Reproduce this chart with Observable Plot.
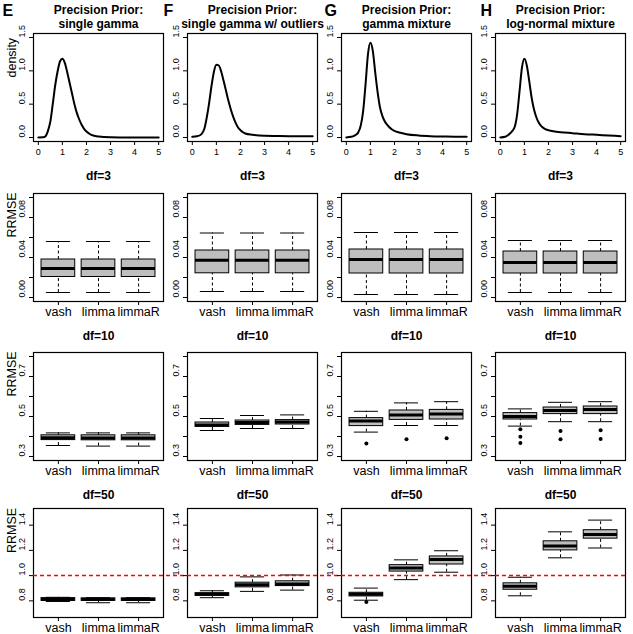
<!DOCTYPE html>
<html><head><meta charset="utf-8">
<script src="https://cdn.jsdelivr.net/npm/d3@7"></script>
<script src="https://cdn.jsdelivr.net/npm/@observablehq/plot@0.6"></script>
<style>
html,body{margin:0;padding:0;background:#fff;}
#root{position:relative;width:633px;height:634px;overflow:hidden;background:#fff;}
#root svg{position:absolute;}
</style></head><body><div id="root"></div>
<script>
// ---------- data ----------
const panelLetters = ["E", "F", "G", "H"];
const priorTitles = ["single gamma", "single gamma w/ outliers", "gamma mixture", "log-normal mixture"];
const methods = ["vash", "limma", "limmaR"];
const dfLabels = ["df=3", "df=10", "df=50"];

// density curves (precision prior)
const densityX = [0, 0.2, 0.3, 0.4, 0.5, 0.6, 0.7, 0.8, 0.9, 1.0, 1.1, 1.2, 1.3, 1.4, 1.5, 1.6, 1.7, 1.8, 1.9, 2.0, 2.2, 2.5, 3, 3.5, 4, 4.5, 5];
const densitySingleGamma = [0, 0.003, 0.02, 0.1, 0.24, 0.5, 0.78, 0.99, 1.14, 1.18, 1.12, 0.98, 0.82, 0.66, 0.5, 0.37, 0.27, 0.19, 0.13, 0.09, 0.04, 0.015, 0.003, 0.001, 0, 0, 0];
const densityGammaOutliers = [0.01, 0.02, 0.03, 0.06, 0.13, 0.3, 0.52, 0.78, 0.99, 1.09, 1.08, 0.99, 0.85, 0.7, 0.55, 0.42, 0.31, 0.22, 0.15, 0.11, 0.06, 0.04, 0.025, 0.022, 0.02, 0.02, 0.02];
const densityGammaMixture = [0, 0.01, 0.02, 0.04, 0.08, 0.18, 0.4, 0.8, 1.25, 1.42, 1.3, 0.98, 0.68, 0.45, 0.32, 0.24, 0.19, 0.15, 0.12, 0.1, 0.075, 0.05, 0.03, 0.02, 0.015, 0.012, 0.01];
const densityLogNormalMixture = [0, 0.01, 0.03, 0.06, 0.1, 0.16, 0.35, 0.7, 1.05, 1.18, 1.08, 0.85, 0.6, 0.42, 0.3, 0.22, 0.17, 0.14, 0.12, 0.11, 0.095, 0.08, 0.065, 0.05, 0.04, 0.03, 0.02];
const densities = [densitySingleGamma, densityGammaOutliers, densityGammaMixture, densityLogNormalMixture];

// RRMSE boxplot stats per prior, per method: [lower whisker, Q1, median, Q3, upper whisker]
const df3Stats = [
  [[0.005, 0.0205, 0.029, 0.038, 0.056], [0.005, 0.0205, 0.029, 0.038, 0.056], [0.005, 0.0205, 0.029, 0.038, 0.056]],
  [[0.006, 0.0242, 0.0372, 0.047, 0.0645], [0.006, 0.0242, 0.0372, 0.047, 0.0645], [0.006, 0.0242, 0.0372, 0.047, 0.0645]],
  [[0.003, 0.024, 0.038, 0.048, 0.065], [0.003, 0.024, 0.038, 0.048, 0.065], [0.003, 0.024, 0.038, 0.048, 0.065]],
  [[0.005, 0.024, 0.035, 0.046, 0.057], [0.005, 0.024, 0.035, 0.046, 0.057], [0.005, 0.024, 0.035, 0.046, 0.057]]
];
const df10Stats = [
  [[0.355, 0.382, 0.394, 0.406, 0.418], [0.352, 0.381, 0.393, 0.406, 0.418], [0.352, 0.381, 0.393, 0.406, 0.418]],
  [[0.43, 0.448, 0.458, 0.47, 0.49], [0.44, 0.458, 0.47, 0.48, 0.505], [0.44, 0.46, 0.472, 0.482, 0.508]],
  [[0.422, 0.452, 0.477, 0.492, 0.526], [0.455, 0.483, 0.508, 0.53, 0.568], [0.455, 0.485, 0.513, 0.533, 0.574]],
  [[0.452, 0.485, 0.5, 0.517, 0.538], [0.474, 0.512, 0.53, 0.545, 0.571], [0.474, 0.512, 0.535, 0.55, 0.574]]
];
const df50Stats = [
  [[0.795, 0.8, 0.81, 0.822, 0.828], [0.785, 0.8, 0.81, 0.82, 0.826], [0.785, 0.8, 0.81, 0.82, 0.826]],
  [[0.825, 0.84, 0.853, 0.861, 0.88], [0.875, 0.907, 0.928, 0.944, 0.99], [0.885, 0.917, 0.933, 0.955, 1.005]],
  [[0.805, 0.835, 0.853, 0.864, 0.901], [0.968, 1.032, 1.061, 1.083, 1.125], [1.027, 1.088, 1.128, 1.152, 1.197]],
  [[0.84, 0.888, 0.915, 0.939, 0.987], [1.141, 1.2, 1.235, 1.272, 1.347], [1.219, 1.293, 1.325, 1.36, 1.44]]
];
const df3Outliers = [[[], [], []], [[], [], []], [[], [], []], [[], [], []]];
const df10Outliers = [[[], [], []], [[], [], []], [[0.365], [0.386], [0.391]], [[0.436, 0.399, 0.368], [0.427, 0.386], [0.431, 0.388]]];
const df50Outliers = [[[], [], []], [[], [], []], [[0.79], [], []], [[], [], []]];

// axis ticks
const densityXTicks = [0, 1, 2, 3, 4, 5];
const densityYTicks = [0, 0.5, 1.0, 1.5];
const densityYLabels = ["0.0", "0.5", "1.0", "1.5"];
const df3YTicks = [0, 0.02, 0.04, 0.06, 0.08, 0.1];
const df3YLabelTicks = [0, 0.04, 0.08];
const df3YLabels = ["0.00", "0.04", "0.08"];
const df10YTicks = [0.3, 0.4, 0.5, 0.6, 0.7, 0.8];
const df10YLabelTicks = [0.3, 0.5, 0.7];
const df10YLabels = ["0.3", "0.5", "0.7"];
const df50YTicks = [0.8, 1.0, 1.2, 1.4];
const df50YLabelTicks = [0.8, 1.0, 1.2, 1.4];
const df50YLabels = ["0.8", "1.0", "1.2", "1.4"];
const referenceLine = [1.0];

// ---------- layout ----------
const FONT = "'Liberation Sans', Arial, Helvetica, sans-serif";
const colLeft = [33, 187, 341, 495];
const rowTop = [33, 193, 352, 508];
const rowH = [108, 108, 108, 109];
const rowMT = [33, 30, 30, 30];
const titleGap = [6, 14, 13, 10];
const letterDx = [-31, -24, -17, -15];
const W = 130, ML = 33, MR = 8, MB = 26;
const boxHalf = 0.42, capHalf = 0.3;
const boxXDomain = [0.38, 3.62];

const root = document.getElementById("root");

function place(svg, c, r) {
  svg.style.left = (colLeft[c] - ML) + "px";
  svg.style.top = (rowTop[r] - rowMT[r]) + "px";
  root.appendChild(svg);
}

function yAxisMarks(ticks, labelTicks, labels, title) {
  const lab = labelTicks.map((v, i) => ({v, t: labels[i]}));
  const m = [
    Plot.axisY({ticks, tickSize: 4, tickFormat: () => "", label: null, stroke: "black"}),
    Plot.text(lab, {y: "v", text: "t", frameAnchor: "left", dx: -11, rotate: -90, fontSize: 9, fill: "black"})
  ];
  if (title) m.push(Plot.text([title], {frameAnchor: "left", dx: -22, dy: -10, rotate: -90, fontSize: 12.5, fill: "black"}));
  return m;
}

// Row 1: densities
for (let c = 0; c < 4; c++) {
  const rows = densityX.map((x, i) => ({x, y: densities[c][i]}));
  const svg = Plot.plot({
    width: ML + W + MR, height: rowMT[0] + rowH[0] + MB,
    marginLeft: ML, marginRight: MR, marginTop: rowMT[0], marginBottom: MB,
    x: {domain: [-0.2, 5.2], axis: null},
    y: {domain: [-0.06, 1.56], axis: null},
    style: {background: "transparent", overflow: "visible", fontFamily: FONT},
    marks: [
      Plot.frame({stroke: "black", strokeWidth: 1.2}),
      Plot.line(rows, {x: "x", y: "y", stroke: "black", strokeWidth: 2, curve: "monotone-x"}),
      Plot.axisX({ticks: densityXTicks, tickSize: 4, tickPadding: 3, fontSize: 9, label: null, tickFormat: d => String(d)}),
      ...yAxisMarks(densityYTicks, densityYTicks, densityYLabels, c === 0 ? "density" : null),
      Plot.text(["Precision Prior:\n" + priorTitles[c]], {frameAnchor: "top", lineAnchor: "bottom", dy: -titleGap[0], fontSize: 12, fontWeight: "bold", lineHeight: 1.1, fill: "black"}),
      Plot.text([panelLetters[c]], {frameAnchor: "top-left", textAnchor: "start", lineAnchor: "bottom", dx: letterDx[c], dy: -18, fontSize: 16, fontWeight: "bold", fill: "black"})
    ]
  });
  place(svg, c, 0);
}

// Rows 2-4: RRMSE boxplots
const rowStats = [df3Stats, df10Stats, df50Stats];
const rowOutliers = [df3Outliers, df10Outliers, df50Outliers];
const rowYDomain = [[-0.004, 0.104], [0.28, 0.82], [0.668, 1.532]];
const rowYTicks = [df3YTicks, df10YTicks, df50YTicks];
const rowYLabelTicks = [df3YLabelTicks, df10YLabelTicks, df50YLabelTicks];
const rowYLabels = [df3YLabels, df10YLabels, df50YLabels];

for (let k = 0; k < 3; k++) {
  const r = k + 1;
  for (let c = 0; c < 4; c++) {
    const rows = rowStats[k][c].map((s, i) => ({pos: i + 1, lw: s[0], q1: s[1], med: s[2], q3: s[3], uw: s[4]}));
    const outs = rowOutliers[k][c].flatMap((vals, i) => vals.map(v => ({pos: i + 1, v})));
    const marks = [
      Plot.ruleX(rows, {x: "pos", y1: "q3", y2: "uw", stroke: "black", strokeDasharray: "3,2.5"}),
      Plot.ruleX(rows, {x: "pos", y1: "lw", y2: "q1", stroke: "black", strokeDasharray: "3,2.5"}),
      Plot.ruleY(rows, {y: "uw", x1: d => d.pos - capHalf, x2: d => d.pos + capHalf, stroke: "black"}),
      Plot.ruleY(rows, {y: "lw", x1: d => d.pos - capHalf, x2: d => d.pos + capHalf, stroke: "black"}),
      Plot.rect(rows, {x1: d => d.pos - boxHalf, x2: d => d.pos + boxHalf, y1: "q1", y2: "q3", fill: "#bebebe", stroke: "black", strokeWidth: 1}),
      Plot.ruleY(rows, {y: "med", x1: d => d.pos - boxHalf, x2: d => d.pos + boxHalf, stroke: "black", strokeWidth: 3}),
      Plot.dot(outs, {x: "pos", y: "v", r: 2, fill: "black"}),
      Plot.frame({stroke: "black", strokeWidth: 1.2}),
      Plot.axisX({ticks: [1, 2, 3], tickSize: 4, tickPadding: 2, fontSize: 12.5, label: null, tickFormat: i => methods[i - 1]}),
      ...yAxisMarks(rowYTicks[k], rowYLabelTicks[k], rowYLabels[k], c === 0 ? "RRMSE" : null),
      Plot.text([dfLabels[k]], {frameAnchor: "top", lineAnchor: "bottom", dy: -titleGap[r], fontSize: 12, fontWeight: "bold", fill: "black"})
    ];
    if (k === 2) {
      const x2 = c < 3 ? boxXDomain[1] + 24 * (boxXDomain[1] - boxXDomain[0]) / W : boxXDomain[1];
      marks.push(Plot.ruleY(referenceLine, {y: d => d, x1: boxXDomain[0], x2, stroke: "red", strokeWidth: 1.5, strokeDasharray: "4,3"}));
    }
    const svg = Plot.plot({
      width: ML + W + MR, height: rowMT[r] + rowH[r] + MB,
      marginLeft: ML, marginRight: MR, marginTop: rowMT[r], marginBottom: MB,
      x: {domain: boxXDomain, axis: null},
      y: {domain: rowYDomain[k], axis: null},
      style: {background: "transparent", overflow: "visible", fontFamily: FONT},
      marks
    });
    place(svg, c, r);
  }
}
</script></body></html>
